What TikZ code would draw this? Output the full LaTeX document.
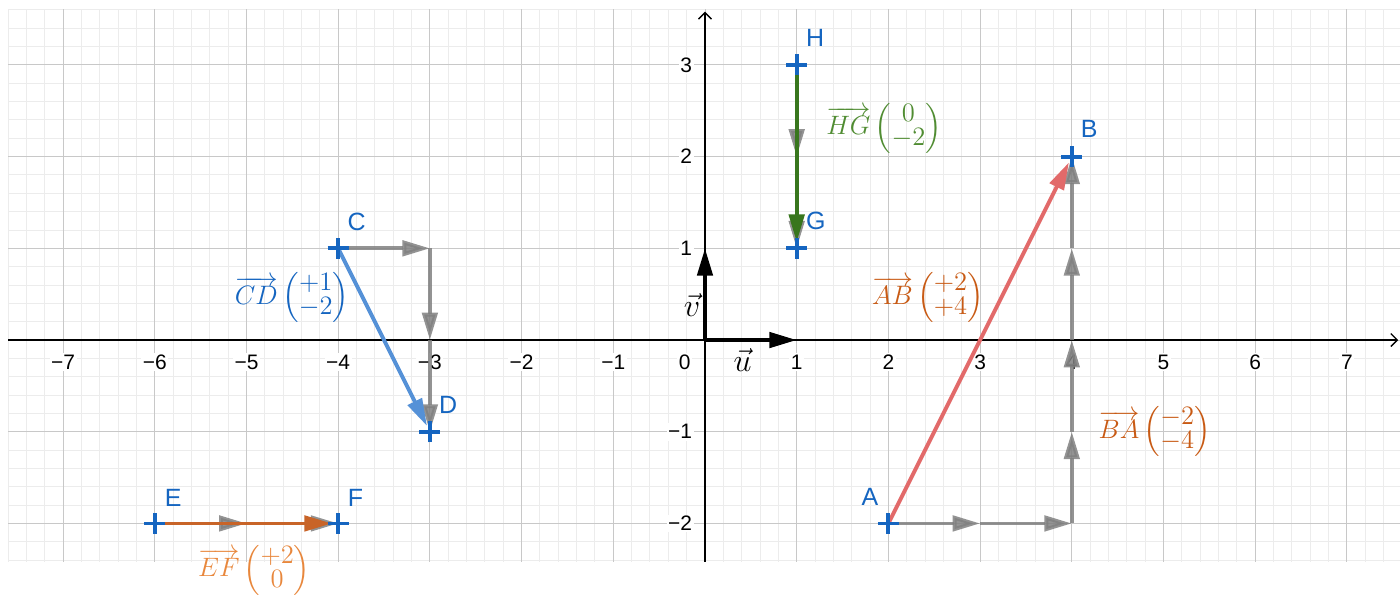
\documentclass[tikz,border=0pt]{standalone}
\usepackage{fix-cm}
\usepackage{amsmath}
\usepackage{fontspec}
\setmainfont{Liberation Sans}
\usetikzlibrary{arrows.meta}
\definecolor{ggblue}{RGB}{21,101,192}
\definecolor{ggcd}{RGB}{85,145,215}
\definecolor{ggred}{RGB}{226,106,106}
\definecolor{ggbrown}{RGB}{200,90,20}
\definecolor{ggorange}{RGB}{200,100,40}
\definecolor{gglight}{RGB}{232,135,60}
\definecolor{gggreen}{RGB}{56,118,29}
\definecolor{gggreenl}{RGB}{80,140,50}
\definecolor{minorgrid}{RGB}{236,236,236}
\definecolor{majorgrid}{RGB}{200,200,200}

\begin{document}
\begin{tikzpicture}[
  x=2cm, y=2cm,
  vec/.style={line width=2.4pt, -{Triangle[length=17pt,width=9.5pt]}},
  grayvec/.style={vec, draw=black!50, opacity=0.85},
  colvec/.style={vec, shorten >=4pt},
  axis/.style={line width=0.8pt, -{Straight Barb[length=4pt,width=8pt]}},
  ptmark/.pic={\draw[ggblue, line width=2.4pt] (-0.115,0) -- (0.115,0) (0,-0.115) -- (0,0.115);},
  ptlabel/.style={text=ggblue, inner sep=0pt, font=\fontsize{15.5}{18}\selectfont},
  ticklabel/.style={fill=white, inner sep=1pt, font=\fontsize{13}{15}\selectfont},
  veclabel/.style={anchor=west, inner sep=0pt, font=\fontsize{16.5}{18}\selectfont\renewcommand{\arraystretch}{0.82}},
  baselabel/.style={inner sep=0pt, font=\fontsize{20}{22}\selectfont}
]
  \useasboundingbox (-7.688,-2.770) rectangle (7.579,3.708);

  % grid
  \draw[minorgrid, line width=0.6pt, step=0.2] (-7.6,-2.42) grid (7.6,3.61);
  \draw[majorgrid, line width=0.6pt, step=1] (-7.6,-2.42) grid (7.6,3.61);

  % axes
  \coordinate (xl) at (-7.6,0);
  \coordinate (xr) at (7.56,0);
  \coordinate (yb) at (0,-2.42);
  \coordinate (yt) at (0,3.58);
  \draw[axis] (xl) -- (xr);
  \draw[axis] (yb) -- (yt);

  \foreach \i in {1,...,7} {
    \node[ticklabel] (xp\i) at (\i,-0.24) {\i};
    \node[ticklabel] (xm\i) at (-\i,-0.24) {−\i};
  }
  \foreach \j in {1,2,3}
    \node[ticklabel, anchor=east] (yp\j) at (-0.12,\j) {\j};
  \foreach \j in {1,2}
    \node[ticklabel, anchor=east] (ym\j) at (-0.12,-\j) {−\j};
  \node[ticklabel] (zero) at (-0.22,-0.24) {0};

  % points
  \coordinate (O) at (0,0);
  \coordinate (U) at (1,0);
  \coordinate (V) at (0,1);
  \coordinate (A) at (2,-2);
  \coordinate (B) at (4,2);
  \coordinate (C) at (-4,1);
  \coordinate (D) at (-3,-1);
  \coordinate (E) at (-6,-2);
  \coordinate (F) at (-4,-2);
  \coordinate (G) at (1,1);
  \coordinate (H) at (1,3);
  \coordinate (A1) at (3,-2);
  \coordinate (A2) at (4,-2);
  \coordinate (A3) at (4,-1);
  \coordinate (A4) at (4,0);
  \coordinate (A5) at (4,1);
  \coordinate (C1) at (-3,1);
  \coordinate (C2) at (-3,0);
  \coordinate (E1) at (-5,-2);
  \coordinate (H1) at (1,2);

  % unit steps
  \foreach \p/\q in {A/A1, A1/A2, A2/A3, A3/A4, A4/A5, A5/B, C/C1, C1/C2, C2/D, E/E1, E1/F, H/H1, H1/G}
    \draw[grayvec] (\p) -- (\q);

  % vectors
  \draw[colvec, ggred] (A) -- (B);
  \draw[colvec, ggcd] (C) -- (D);
  \draw[colvec, ggorange] (E) -- (F);
  \draw[colvec, gggreen] (H) -- (G);
  \draw[vec, black] (O) -- (U);
  \draw[vec, black] (O) -- (V);
  \node[baselabel] (ulab) at (0.41,-0.22) {$\vec{u}$};
  \node[baselabel] (vlab) at (-0.14,0.38) {$\vec{v}$};

  \foreach \p in {A,B,C,D,E,F,G,H}
    \pic at (\p) {ptmark};

  \node[ptlabel] (Alab) at ([shift={(-0.2,0.29)}]A) {A};
  \node[ptlabel] (Blab) at ([shift={(0.19,0.3)}]B) {B};
  \node[ptlabel] (Clab) at ([shift={(0.2,0.29)}]C) {C};
  \node[ptlabel] (Dlab) at ([shift={(0.2,0.29)}]D) {D};
  \node[ptlabel] (Elab) at ([shift={(0.2,0.28)}]E) {E};
  \node[ptlabel] (Flab) at ([shift={(0.19,0.28)}]F) {F};
  \node[ptlabel] (Glab) at ([shift={(0.21,0.3)}]G) {G};
  \node[ptlabel] (Hlab) at ([shift={(0.2,0.3)}]H) {H};

  % coordinates of the vectors
  \node[veclabel, text=gggreenl] (HGlab) at (1.32,2.31) {$\overrightarrow{HG}\begin{pmatrix}0\\-2\end{pmatrix}$};
  \node[veclabel, text=ggblue] (CDlab) at (-5.13,0.46) {$\overrightarrow{CD}\begin{pmatrix}+1\\-2\end{pmatrix}$};
  \node[veclabel, text=ggbrown] (ABlab) at (1.82,0.46) {$\overrightarrow{AB}\begin{pmatrix}+2\\+4\end{pmatrix}$};
  \node[veclabel, text=ggbrown] (BAlab) at (4.29,-1.0) {$\overrightarrow{BA}\begin{pmatrix}-2\\-4\end{pmatrix}$};
  \node[veclabel, text=gglight] (EFlab) at (-5.53,-2.51) {$\overrightarrow{EF}\begin{pmatrix}+2\\0\end{pmatrix}$};
\end{tikzpicture}
\end{document}
